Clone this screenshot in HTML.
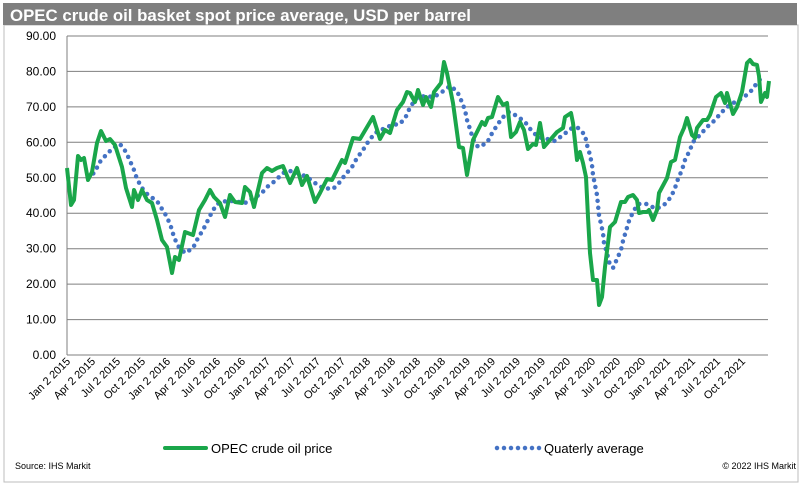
<!DOCTYPE html>
<html><head><meta charset="utf-8"><style>
body{margin:0;background:#fff;}
svg{display:block;font-family:"Liberation Sans",Arial,sans-serif;}
</style></head><body>
<svg width="812" height="487" viewBox="0 0 812 487" xmlns="http://www.w3.org/2000/svg">
<rect x="4" y="25" width="794" height="457" fill="#fff" stroke="#bdbdbd" stroke-width="1"/>
<rect x="3" y="3" width="794" height="22" fill="#7f7f7f"/>
<text x="10" y="21" fill="#fff" font-size="17" font-weight="bold" textLength="461" lengthAdjust="spacingAndGlyphs">OPEC crude oil basket spot price average, USD per barrel</text>
<g stroke="#7f7f7f" stroke-width="1">
<line x1="67" y1="36" x2="768" y2="36"/><line x1="67" y1="71.4" x2="768" y2="71.4"/><line x1="67" y1="106.9" x2="768" y2="106.9"/><line x1="67" y1="142.3" x2="768" y2="142.3"/><line x1="67" y1="177.8" x2="768" y2="177.8"/><line x1="67" y1="213.2" x2="768" y2="213.2"/><line x1="67" y1="248.7" x2="768" y2="248.7"/><line x1="67" y1="284.1" x2="768" y2="284.1"/><line x1="67" y1="319.6" x2="768" y2="319.6"/><line x1="67" y1="355" x2="768" y2="355"/>
<line x1="67" y1="36" x2="67" y2="355"/>
</g>
<g font-size="12" fill="#000" text-anchor="end">
<text x="56" y="40">90.00</text><text x="56" y="75.4">80.00</text><text x="56" y="110.9">70.00</text><text x="56" y="146.3">60.00</text><text x="56" y="181.8">50.00</text><text x="56" y="217.2">40.00</text><text x="56" y="252.7">30.00</text><text x="56" y="288.1">20.00</text><text x="56" y="323.6">10.00</text><text x="56" y="359">0.00</text>
</g>
<g font-size="11" fill="#000" text-anchor="end">
<text transform="translate(71,362) rotate(-45)">Jan 2 2015</text>
<text transform="translate(96,362) rotate(-45)">Apr 2 2015</text>
<text transform="translate(121,362) rotate(-45)">Jul 2 2015</text>
<text transform="translate(146,362) rotate(-45)">Oct 2 2015</text>
<text transform="translate(171,362) rotate(-45)">Jan 2 2016</text>
<text transform="translate(196,362) rotate(-45)">Apr 2 2016</text>
<text transform="translate(221,362) rotate(-45)">Jul 2 2016</text>
<text transform="translate(246,362) rotate(-45)">Oct 2 2016</text>
<text transform="translate(271,362) rotate(-45)">Jan 2 2017</text>
<text transform="translate(296,362) rotate(-45)">Apr 2 2017</text>
<text transform="translate(321,362) rotate(-45)">Jul 2 2017</text>
<text transform="translate(346,362) rotate(-45)">Oct 2 2017</text>
<text transform="translate(371,362) rotate(-45)">Jan 2 2018</text>
<text transform="translate(396,362) rotate(-45)">Apr 2 2018</text>
<text transform="translate(421,362) rotate(-45)">Jul 2 2018</text>
<text transform="translate(446,362) rotate(-45)">Oct 2 2018</text>
<text transform="translate(471,362) rotate(-45)">Jan 2 2019</text>
<text transform="translate(496,362) rotate(-45)">Apr 2 2019</text>
<text transform="translate(521,362) rotate(-45)">Jul 2 2019</text>
<text transform="translate(546,362) rotate(-45)">Oct 2 2019</text>
<text transform="translate(571,362) rotate(-45)">Jan 2 2020</text>
<text transform="translate(596,362) rotate(-45)">Apr 2 2020</text>
<text transform="translate(621,362) rotate(-45)">Jul 2 2020</text>
<text transform="translate(646,362) rotate(-45)">Oct 2 2020</text>
<text transform="translate(671,362) rotate(-45)">Jan 2 2021</text>
<text transform="translate(696,362) rotate(-45)">Apr 2 2021</text>
<text transform="translate(721,362) rotate(-45)">Jul 2 2021</text>
<text transform="translate(746,362) rotate(-45)">Oct 2 2021</text>
</g>
<polyline fill="none" stroke="#4472c4" stroke-width="4.5" stroke-linecap="round" stroke-dasharray="0 7" points="88,178 95,172 99,163 106,155 113,148 120,144 126,152 130,161 134,170 137,179 142,188 148,195 157,201 162,209 167,217 171,227 174,237 178,246 185,253 193,248 198,238 203,230 212,212 217,204 226,201 233,201 245,203 253,198 261,194 267,187 275,181 283,173 290,171 298,173 307,177 315,183 323,188 333,189 339,183 345,175 352,167 357,158 363,150 368,142 375,133 383,129 392,125 400,124 407,115 410,107 417,98 425,96 434,97 442,92 450,86 457,91 461,100 465,110 467,120 470,129 473,139 478,147 487,143 491,135 496,127 502,118 509,112 517,116 525,122 531,130 538,137 547,139 555,141 563,135 572,128 578,128 585,135 587,145 590,155 592,165 593,175 595,185 597,195 598,205 599,215 601,224 603,233 604,243 607,253 609,262 613,268 617,259 621,250 623,241 626,231 629,221 633,212 638,204 647,204 656,209 664,205 671,197 675,188 678,179 682,170 685,160 690,150 693,142 700,135 707,127 714,121 721,113 727,107 735,102 743,98 751,91 757,83 763,76"/>
<polyline fill="none" stroke="#1aa64a" stroke-width="4" stroke-linejoin="round" points="67,168 71,205 74,200 78,156 81,160 84,158 88,180 92,172 97,143 101,131 106,141 110,139 115,145 122,167 126,188 132,207 134,190 138,200 142,190 147,200 152,203 157,220 162,240 167,247 172,273 175,257 179,260 185,232 193,235 199,210 205,200 210,190 214,197 220,203 225,217 230,195 235,202 242,203 245,187 250,192 254,207 262,173 267,168 272,171 277,168 283,166 290,183 297,168 302,185 307,176 315,202 320,193 327,179 332,180 342,160 345,163 353,138 360,139 373,117 380,139 385,130 390,133 397,110 403,102 407,92 410,93 415,102 418,90 423,105 426,97 431,107 434,92 441,83 444,62 447,73 453,103 459,147 463,148 467,175 473,140 482,122 485,125 488,118 492,117 498,97 503,105 507,103 511,137 516,132 520,122 524,130 528,149 533,144 536,145 540,123 544,147 550,140 557,132 563,128 565,117 571,113 573,123 577,160 580,152 583,163 586,177 588,217 590,253 593,280 597,280 599,305 602,297 605,267 610,227 615,222 621,202 625,202 628,197 633,195 637,200 639,213 643,212 647,212 649,210 653,220 657,210 659,193 667,178 671,162 675,160 680,137 684,128 687,118 692,135 695,138 697,128 703,120 707,120 710,115 716,97 721,93 725,103 727,93 733,114 737,107 742,92 747,63 750,60 753,64 757,65 759,76 761,102 765,93 767,97 769,81"/>
<line x1="165" y1="448" x2="206" y2="448" stroke="#1aa64a" stroke-width="4" stroke-linecap="round"/>
<text x="211" y="453" font-size="13" fill="#000">OPEC crude oil price</text>
<line x1="497" y1="448" x2="540" y2="448" stroke="#4472c4" stroke-width="4.5" stroke-linecap="round" stroke-dasharray="0 7"/>
<text x="544" y="453" font-size="13" fill="#000">Quaterly average</text>
<text x="15" y="469" font-size="9" fill="#000">Source: IHS Markit</text>
<text x="796" y="469" font-size="9" fill="#000" text-anchor="end">© 2022 IHS Markit</text>
</svg>
</body></html>
